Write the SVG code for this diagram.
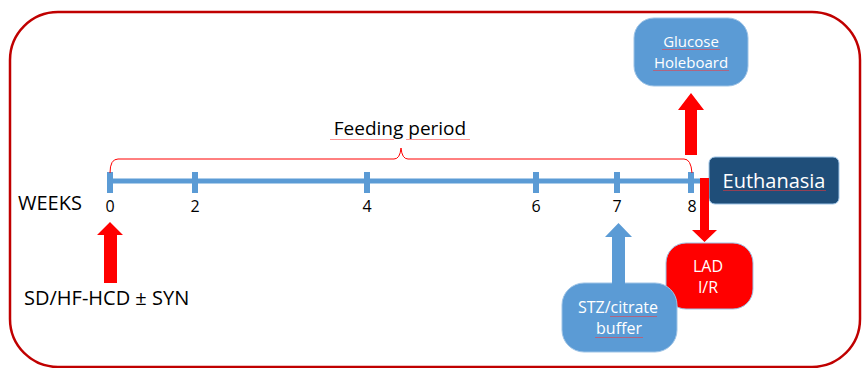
<svg xmlns="http://www.w3.org/2000/svg" width="862" height="368" viewBox="0 0 862 368">
<style>
.t{font-family:"Open Sans","Liberation Sans",sans-serif;fill:#000}
.w{font-family:"Open Sans","Liberation Sans",sans-serif;fill:#fff}
.num{font-size:16px;text-anchor:middle}
.blue{fill:#5b9bd5}
.red{fill:#ff0000}
</style>
<defs>
<pattern id="sq" width="3" height="3" patternUnits="userSpaceOnUse">
<path d="M0,2 L0.75,1 L1.5,2 L2.25,1 L3,2" fill="none" stroke="#ff3030" stroke-width="0.6" stroke-opacity="0.8"/>
</pattern>
</defs>
<rect x="10" y="12" width="850" height="355" rx="48" ry="48" fill="#fff" stroke="#c00000" stroke-width="2.5"/>

<g id="timeline">
<rect x="110" y="178.5" width="598" height="5" class="blue"/>
<rect x="107" y="172" width="6" height="21" class="blue"/>
<rect x="192" y="172" width="6" height="21" class="blue"/>
<rect x="364" y="172" width="6" height="21" class="blue"/>
<rect x="533" y="172" width="6" height="21" class="blue"/>
<rect x="614" y="172" width="6" height="21" class="blue"/>
<rect x="688" y="172" width="6" height="21" class="blue"/>
<text class="t num" x="110" y="212">0</text>
<text class="t num" x="195" y="212">2</text>
<text class="t num" x="367" y="212">4</text>
<text class="t num" x="536" y="212">6</text>
<text class="t num" x="617" y="212">7</text>
<text class="t num" x="692" y="212">8</text>
<text class="t" x="18" y="210" font-size="20">WEEKS</text>
</g>

<g id="feeding-period">
<path d="M110,173 Q110,159 118,159 L394,159 Q400,159 401,148 Q402,159 408,159 L684,159 Q691,159 692,173" fill="none" stroke="#ff0000" stroke-width="1"/>
<text class="t" x="400" y="135" font-size="19" text-anchor="middle">Feeding period</text>
<rect x="330" y="138" width="64" height="3" fill="url(#sq)"/>
<rect x="406" y="138" width="64" height="3" fill="url(#sq)"/>
</g>

<g id="diet">
<text class="t" x="24" y="305" font-size="20">SD/HF-HCD ± SYN</text>
</g>

<g id="glucose-holeboard">
<rect x="634" y="18" width="114" height="68" rx="20" ry="20" class="blue" stroke="#9dc3e6" stroke-width="1"/>
<text class="w" x="691" y="47" font-size="15" text-anchor="middle">Glucose</text>
<text class="w" x="691" y="68" font-size="15" text-anchor="middle">Holeboard</text>
<rect x="662" y="48" width="58" height="3" fill="url(#sq)"/>
<rect x="653" y="69" width="76" height="3" fill="url(#sq)"/>
</g>

<g id="euthanasia">
<rect x="709" y="157" width="130" height="47" rx="6" ry="6" fill="#1f4e79" stroke="#9dc3e6" stroke-width="1"/>
<text class="w" x="774" y="188" font-size="20" text-anchor="middle">Euthanasia</text>
<rect x="723" y="189" width="103" height="3" fill="url(#sq)"/>
</g>

<g id="lad-ir">
<rect x="666" y="243" width="87" height="66" rx="20" ry="20" fill="#ff0000" stroke="#9dc3e6" stroke-width="1"/>
<text class="w" x="708" y="272" font-size="16" text-anchor="middle">LAD</text>
<text class="w" x="708" y="293" font-size="16" text-anchor="middle">I/R</text>
</g>

<g id="stz-citrate">
<rect x="562" y="283" width="115" height="69" rx="22" ry="22" class="blue" stroke="#9dc3e6" stroke-width="1"/>
<text class="w" x="618" y="313" font-size="16" text-anchor="middle">STZ/citrate</text>
<text class="w" x="619" y="334" font-size="16" text-anchor="middle">buffer</text>
<rect x="610" y="315" width="47" height="3" fill="url(#sq)"/>
<rect x="595" y="336" width="48" height="3" fill="url(#sq)"/>
</g>

<g id="connectors">
<polygon class="red" points="104,283 117,283 117,235 123,235 110,222 97,235 104,235"/>
<polygon class="blue" points="612,285 625,285 625,237 632,237 618.5,223 605,237 612,237"/>
<polygon class="red" points="685,155 697,155 697,110 704,110 691,93 678,110 685,110"/>
<polygon class="red" points="700,178 709,178 709,230 717,230 704.5,242 692,230 700,230"/>
</g>
</svg>
